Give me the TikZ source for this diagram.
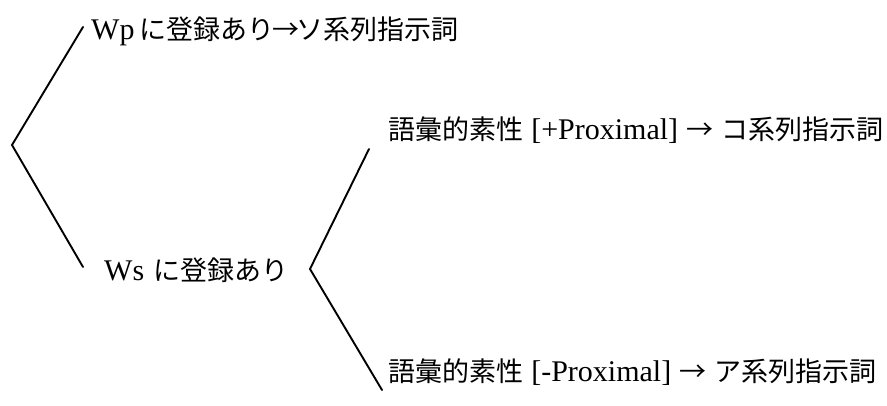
\documentclass[tikz,border=0pt]{standalone}
\usepackage{fontspec}
\setmainfont{Liberation Serif}
\newfontfamily\jp{Noto Sans CJK JP}
\newcommand\jarrow[1]{{\jp\makebox[#1]{→}}}
\newcommand\lat[1]{{\fontsize{30}{34}\selectfont #1}}
\begin{document}
\begin{tikzpicture}[x=1pt,y=-1pt,
  lbl/.style={anchor=west, inner sep=0pt, font=\fontsize{27}{32}\selectfont},
  br/.style={line width=1.9pt, line cap=round, line join=miter}]
\useasboundingbox (0,0) rectangle (887,406);
\node[lbl] (wp) at (91,31) {\lat{Wp}\hspace{0.2em}{\jp に登録あり}\jarrow{0.8em}{\jp ソ系列指示詞}};
\node[lbl] (ws) at (104,270) {\lat{Ws}\hspace{0.35em}{\jp に登録あり}};
\node[lbl] (kp) at (388,130) {{\jp 語彙的素性}\hspace{0.3em}\lat{[+Proximal]}\hspace{0.2em}\jarrow{1.2em}\hspace{0.2em}{\jp コ系列指示詞}};
\node[lbl] (ka) at (388,372) {{\jp 語彙的素性}\hspace{0.3em}\lat{[-Proximal]}\hspace{0.2em}\jarrow{1.2em}\hspace{0.2em}{\jp ア系列指示詞}};
\coordinate (e1) at (83,27);
\coordinate (a1) at (12,145);
\coordinate (e2) at (83,267);
\coordinate (e3) at (369,149);
\coordinate (a2) at (310,269);
\coordinate (e4) at (382,390);
\draw[br] (e1) -- (a1) -- (e2);
\draw[br] (e3) -- (a2) -- (e4);
\end{tikzpicture}
\end{document}
